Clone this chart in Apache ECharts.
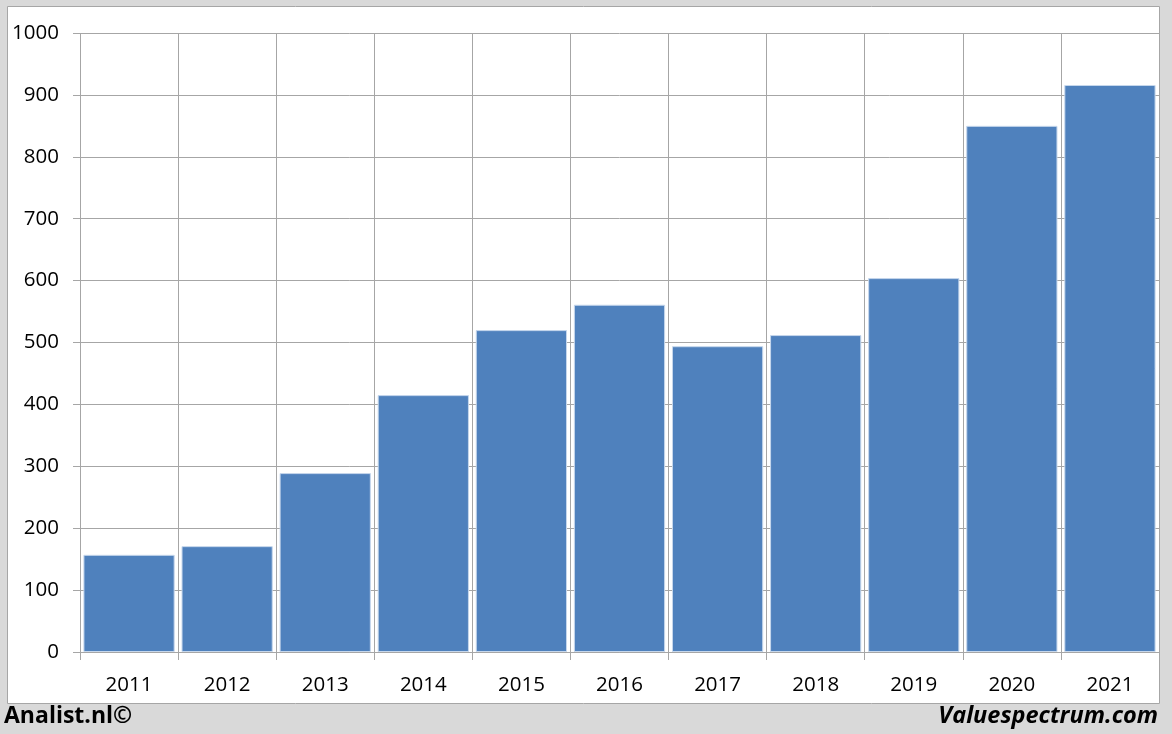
<!DOCTYPE html>
<html><head><meta charset="utf-8">
<script src="https://cdn.jsdelivr.net/npm/echarts@6/dist/echarts.min.js"></script>
<style>html,body{margin:0;padding:0;background:#d9d9d9;}#c{width:1172px;height:734px;}</style>
</head><body><div id="c"></div>
<script>
const categories = ['2011','2012','2013','2014','2015','2016','2017','2018','2019','2020','2021'];
const values = [157, 171, 289, 415, 520, 561, 494, 512, 604, 850, 916];
const yTicks = [0,100,200,300,400,500,600,700,800,900,1000];

const chart = echarts.init(document.getElementById('c'));
const font = '"Open Sans", "Noto Sans", sans-serif';
chart.setOption({
  animation: false,
  backgroundColor: '#d9d9d9',
  graphic: [
    {type:'rect', shape:{x:7.5,y:6.5,width:1152,height:697}, style:{fill:'#ffffff', stroke:'#a6a6a6', lineWidth:1}, z:-10, silent:true},
    {type:'text', left:4, top:705, style:{text:'Analist.nl©', font:'bold 23px ' + font, fill:'#000'}},
    {type:'text', right:14, top:705, style:{text:'Valuespectrum.com', font:'italic bold 23.5px ' + font, fill:'#000'}}
  ],
  grid: {left:80, right:13, top:33, bottom:82, containLabel:false},
  xAxis: {
    type:'category', data:categories,
    axisLine:{show:true, lineStyle:{color:'#a6a6a6', width:1}},
    axisTick:{show:true, length:8, lineStyle:{color:'#a6a6a6'}},
    splitLine:{show:true, lineStyle:{color:'#a6a6a6', width:1}},
    axisLabel:{color:'#000', fontSize:20.5, fontFamily:font, margin:23}
  },
  yAxis: {
    type:'value', min:0, max:1000, interval:100,
    axisLine:{show:false},
    axisTick:{show:true, length:7, lineStyle:{color:'#a6a6a6'}},
    splitLine:{show:true, lineStyle:{color:'#a6a6a6', width:1}},
    axisLabel:{color:'#000', fontSize:20.5, fontFamily:font, margin:21,
      formatter: v => yTicks.includes(v) ? String(v) : ''}
  },
  series: [{
    type:'bar', data:values, barCategoryGap:'7%',
    itemStyle:{color:'#4f81bd', borderColor:'#c6d7ec', borderWidth:1}
  }]
});
</script></body></html>
